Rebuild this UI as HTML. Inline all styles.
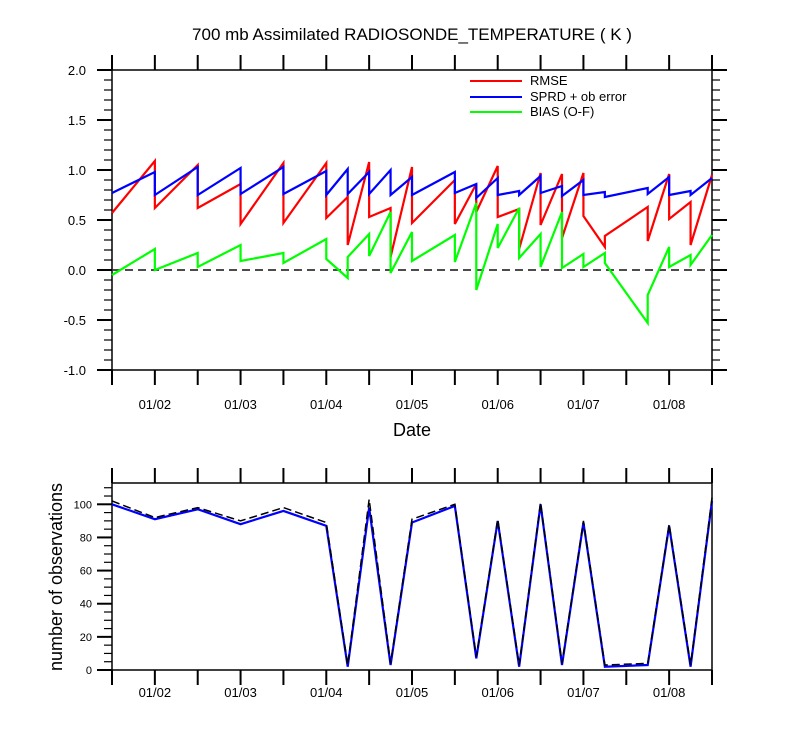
<!DOCTYPE html>
<html><head><meta charset="utf-8"><style>
body{margin:0;background:#fff}
svg{display:block;font-family:"Liberation Sans",sans-serif}
</style></head><body>
<svg id="c" width="800" height="750"></svg>
<script>
// time index (6-hourly steps from 01/01 12Z)
const tIdx=[0,2,4,6,8,10,11,12,13,14,16,17,18,19,20,21,22,23,25,26,27,28];
const rmseArr =[null,1.09,1.05,0.86,1.07,1.07,0.73,1.08,0.62,1.03,0.90,0.86,1.04,0.61,0.97,0.96,0.97,0.23,0.63,0.96,0.68,0.95];
const rmsePost=[0.57,0.62,0.62,0.46,0.47,0.52,0.25,0.53,0.13,0.47,0.46,0.58,0.53,0.21,0.45,0.32,0.54,0.34,0.29,0.51,0.25,null];
const sprdArr =[null,0.98,1.03,1.02,1.03,0.99,1.01,0.98,1.00,0.93,0.98,0.86,0.92,0.79,0.94,0.84,0.90,0.78,0.82,0.93,0.79,0.92];
const sprdPost=[0.77,0.75,0.75,0.76,0.76,0.75,0.76,0.76,0.75,0.75,0.77,0.72,0.75,0.75,0.77,0.74,0.75,0.73,0.76,0.75,0.75,null];
const biasArr =[null,0.21,0.17,0.25,0.17,0.31,-0.08,0.36,0.58,0.38,0.35,0.67,0.46,0.62,0.36,0.58,0.16,0.17,-0.53,0.23,0.15,0.35];
const biasPost=[-0.05,0.0,0.03,0.09,0.07,0.11,0.13,0.14,-0.03,0.09,0.08,-0.2,0.22,0.12,0.03,0.02,0.03,0.07,-0.25,0.03,0.05,null];
const obsUsed =[100,91,97,88,96,87,2,98,3,89,99,7,90,2,100,3,89,2,3,87,2,102];
const obsTotal=[102,92,98,90,98,89,3,103,4,91,100,8,91,3,101,4,90,3,4,88,3,104];
const dateLabels=["01/02","01/03","01/04","01/05","01/06","01/07","01/08"];
const yTop=[2.0,1.5,1.0,0.5,0.0,-0.5,-1.0];
const yBot=[0,20,40,60,80,100];

const NS="http://www.w3.org/2000/svg";
const svg=document.getElementById('c');
function el(t,a,p){const e=document.createElementNS(NS,t);for(const k in a)e.setAttribute(k,a[k]);(p||svg).appendChild(e);return e;}
const X0=112,X1=712;
const x=k=>X0+(X1-X0)*k/28;
const yT=v=>270-100*v;
const yB=v=>670-1.657*v;

let t=el('text',{x:412,y:40,'text-anchor':'middle','font-size':17});t.textContent="700 mb Assimilated RADIOSONDE_TEMPERATURE ( K )";


function frame(top,bot,name){
  const g=el('g',{});
  el('rect',{x:X0,y:top,width:X1-X0,height:bot-top,fill:'none',stroke:'#000','stroke-width':1.5},g);
  for(let k=2;k<=28;k+=2){const xx=x(k);
    el('line',{x1:xx,x2:xx,y1:top-15,y2:top,stroke:'#000','stroke-width':2},g);
    el('line',{x1:xx,x2:xx,y1:bot,y2:bot+15,stroke:'#000','stroke-width':2},g);}
  el('line',{x1:X0,x2:X0,y1:bot,y2:bot+15,stroke:'#000','stroke-width':2},g);
  el('line',{x1:X0,x2:X0,y1:top-15,y2:top,stroke:'#000','stroke-width':2},g);
  return g;
}
const g1=frame(70,370,'top-panel');
for(let v=-1.0;v<=2.0001;v+=0.1){const yy=yT(v);const maj=Math.abs(v*2-Math.round(v*2))<1e-6;const L=maj?15:8;
  el('line',{x1:X0-L,x2:X0,y1:yy,y2:yy,stroke:'#000','stroke-width':maj?2:1.2},g1);
  el('line',{x1:X1,x2:X1+L,y1:yy,y2:yy,stroke:'#000','stroke-width':maj?2:1.2},g1);}
yTop.forEach(v=>{const tt=el('text',{x:86,y:yT(v)+5,'text-anchor':'end','font-size':13},g1);tt.textContent=v.toFixed(1);
  });
dateLabels.forEach((d,i)=>{const tt=el('text',{x:x(2+4*i),y:409,'text-anchor':'middle','font-size':13},g1);tt.textContent=d;
  });
t=el('text',{x:412,y:436,'text-anchor':'middle','font-size':18});t.textContent="Date";

el('line',{x1:X0,x2:X1,y1:yT(0),y2:yT(0),stroke:'#333','stroke-width':1.8,'stroke-dasharray':'8,5'},g1);

function saw(arr,post,color,name){
  let pts=[];
  tIdx.forEach((k,i)=>{if(arr[i]!=null)pts.push([x(k),yT(arr[i])]);if(post[i]!=null)pts.push([x(k),yT(post[i])]);});
  const p=el('polyline',{points:pts.map(q=>q.join(',')).join(' '),fill:'none',stroke:color,'stroke-width':2.2,'stroke-linejoin':'miter'});
  
}
saw(rmseArr,rmsePost,'#f00','rmse-line');
saw(biasArr,biasPost,'#0f0','bias-line');
saw(sprdArr,sprdPost,'#00f','sprd-line');

[['RMSE','#f00',81],['SPRD + ob error','#00f',97],['BIAS (O-F)','#0f0',112]].forEach(([lab,c,yy])=>{
  const g=el('g',{});
  el('line',{x1:470,x2:522,y1:yy,y2:yy,stroke:c,'stroke-width':2},g);
  const tt=el('text',{x:530,y:yy+4,'font-size':13},g);tt.textContent=lab;
});

const g2=frame(483,670,'bottom-panel');
for(let v=0;v<=110;v+=5){const yy=yB(v);const maj=v%20==0;const L=maj?15:8;
  el('line',{x1:X0-L,x2:X0,y1:yy,y2:yy,stroke:'#000','stroke-width':maj?2:1.2},g2);}
yBot.forEach(v=>{const tt=el('text',{x:92,y:yB(v)+4,'text-anchor':'end','font-size':11},g2);tt.textContent=v;
  });
dateLabels.forEach((d,i)=>{const tt=el('text',{x:x(2+4*i),y:697,'text-anchor':'middle','font-size':13},g2);tt.textContent=d;
  });
t=el('text',{transform:'translate(62,577) rotate(-90)','text-anchor':'middle','font-size':18});t.textContent="number of observations";

let p=el('polyline',{points:tIdx.map((k,i)=>x(k)+','+yB(obsUsed[i])).join(' '),fill:'none',stroke:'#00f','stroke-width':2.2});

p=el('polyline',{points:tIdx.map((k,i)=>x(k)+','+yB(obsTotal[i])).join(' '),fill:'none',stroke:'#000','stroke-width':1.5,'stroke-dasharray':'8,4'});

</script>
</body></html>
